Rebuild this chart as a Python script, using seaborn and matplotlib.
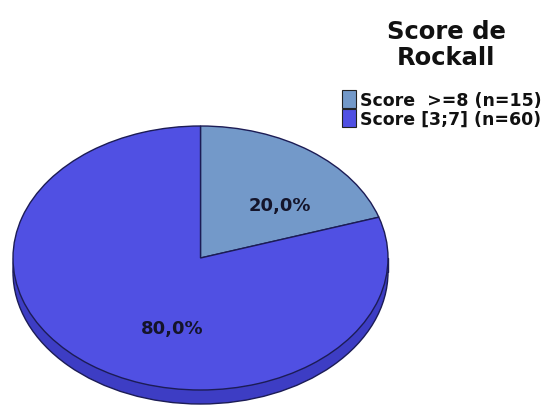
import matplotlib
matplotlib.use("Agg")
import matplotlib.pyplot as plt
from matplotlib.patches import Ellipse, Rectangle
import seaborn as sns

# Rockall score groups
categories = ["Score  >=8 (n=15)", "Score [3;7] (n=60)"]
counts = [15, 60]
slice_colors = ["#7399c9", "#5050e3"]
side_color = "#3d3dc4"
edge_color = "#1c1c55"
legend_title = "Score de\nRockall"

sns.set_theme(style="white")
plt.rcParams["font.family"] = ["DejaVu Sans"]
plt.rcParams["text.color"] = "#111111"

W, H = 558, 410
fig = plt.figure(figsize=(W / 100, H / 100), dpi=100)
ax = fig.add_axes([0, 0, 1, 1])

# pixel geometry of the tilted disc (ellipse face + thickness)
cx, cy, rx, ry, depth = 200.5, 259.0, 187.5, 132.0, 14.0
d = depth / ry

# side of the disc
ax.add_patch(Ellipse((0, -d), 2, 2, facecolor=side_color, edgecolor=edge_color, lw=1.0, zorder=1))
ax.add_patch(Rectangle((-1, -d), 2, d, facecolor=side_color, edgecolor="none", zorder=1))
ax.plot([-1, -1], [-d, 0], color=edge_color, lw=1.0, zorder=1)
ax.plot([1, 1], [-d, 0], color=edge_color, lw=1.0, zorder=1)

wedges, _, autotexts = ax.pie(
    counts,
    startangle=90,
    counterclock=False,
    colors=slice_colors,
    radius=1.0,
    autopct=lambda p: f"{p:.1f}%".replace(".", ","),
    pctdistance=0.6,
    wedgeprops=dict(edgecolor=edge_color, linewidth=1.0, zorder=2),
    textprops=dict(fontsize=13, fontweight="bold", color="#14142a"),
)
for w in wedges:
    w.set_zorder(2)

# label positions inside each slice
autotexts[0].set_position(((280 - cx) / rx, (cy - 206) / ry))
autotexts[1].set_position(((172 - cx) / rx, (cy - 329) / ry))
for t in autotexts:
    t.set_zorder(3)

ax.set_aspect("auto")
ax.set_xlim(-cx / rx, (W - cx) / rx)
ax.set_ylim(-(H - cy) / ry, cy / ry)
ax.axis("off")

# title and legend
fig.text(446 / W, 1 - 45 / H, legend_title, ha="center", va="center",
         fontsize=17.5, fontweight="bold", linespacing=1.1, color="#111111")
leg = fig.legend(
    wedges, categories,
    loc="upper left", bbox_to_anchor=(342 / W, 1 - 91 / H),
    frameon=False, borderaxespad=0, borderpad=0,
    handlelength=0.8, handleheight=1.25, handletextpad=0.25, labelspacing=0.0,
    prop=dict(size=12.5, weight="bold"),
)
for t in leg.get_texts():
    t.set_color("#111111")
for h in leg.legend_handles:
    h.set_edgecolor("#222222")
    h.set_linewidth(0.8)

fig.savefig("out.png", dpi=100, facecolor="white")
